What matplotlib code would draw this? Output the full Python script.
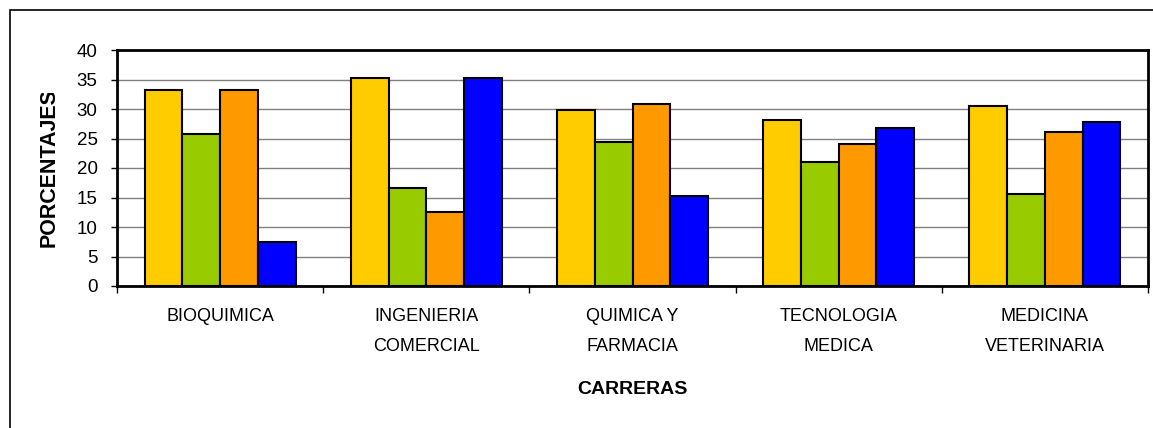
import numpy as np
import matplotlib
matplotlib.use('Agg')
from matplotlib import pyplot as plt
from matplotlib.patches import Rectangle
from matplotlib.transforms import Bbox, TransformedBbox

plt.rcParams['font.family'] = ['Liberation Sans', 'DejaVu Sans']

carreras = ['BIOQUIMICA', 'INGENIERIA\nCOMERCIAL', 'QUIMICA Y\nFARMACIA',
            'TECNOLOGIA\nMEDICA', 'MEDICINA\nVETERINARIA']
serie_1 = [33.2, 35.2, 29.8, 28.1, 30.5]
serie_2 = [25.8, 16.6, 24.4, 21.0, 15.6]
serie_3 = [33.2, 12.5, 30.8, 24.1, 26.1]
serie_4 = [7.5, 35.2, 15.2, 26.8, 27.8]
colores = ['#FFCC00', '#99CC00', '#FF9900', '#0000FF']

fig = plt.figure(figsize=(11.53, 4.28), dpi=100)
ax = fig.add_axes([117/1153, 1 - 286/428, 1031/1153, 236/428])

# outer frame of the chart area
fig.patches.append(Rectangle((10/1153, -0.05), 1.1, 1 - 10/428 + 0.05,
                             transform=fig.transFigure, fill=False,
                             edgecolor='black', linewidth=1.2))

x = np.arange(len(carreras))
w = 0.183
series = [serie_1, serie_2, serie_3, serie_4]
for i, (vals, col) in enumerate(zip(series, colores)):
    ax.bar(x + (i - 1.5) * w, vals, width=w, color=col,
           edgecolor='black', linewidth=1.5, zorder=3)

ax.set_xlim(-0.5, len(carreras) - 0.5)
ax.set_ylim(0, 40)
ax.set_yticks(range(0, 41, 5))
ax.yaxis.grid(True, color='#808080', linewidth=1.0, zorder=0)
ax.set_axisbelow(True)

ax.set_xticks(x)
ax.set_xticklabels(carreras, fontsize=13, linespacing=1.95, va='top')
ax.set_xticks(np.arange(-0.5, len(carreras)), minor=True)
ax.tick_params(axis='x', which='major', length=0, pad=16)
ax.tick_params(axis='x', which='minor', length=5, width=1, direction='out')
ax.tick_params(axis='y', length=4, width=1, direction='out', labelsize=13.5, pad=10)

for s in ax.spines.values():
    s.set_linewidth(2)
    s.set_color('black')

ax.set_xlabel('CARRERAS', fontsize=14, fontweight='bold', va='center')
ax.xaxis.set_label_coords(0.5, (286 - 390) / 236)

# y label, clipped at the top like the original
yl = fig.text(49/1153, 1 - 247/428, 'PORCENTAJES', rotation=90, fontsize=15.5,
              fontweight='bold', ha='center', va='bottom')
yl.set_clip_box(TransformedBbox(Bbox([[0, 0], [1, 1 - 93/428]]), fig.transFigure))
yl.set_clip_on(True)

fig.savefig('out.png', dpi=100)
plt.close()
